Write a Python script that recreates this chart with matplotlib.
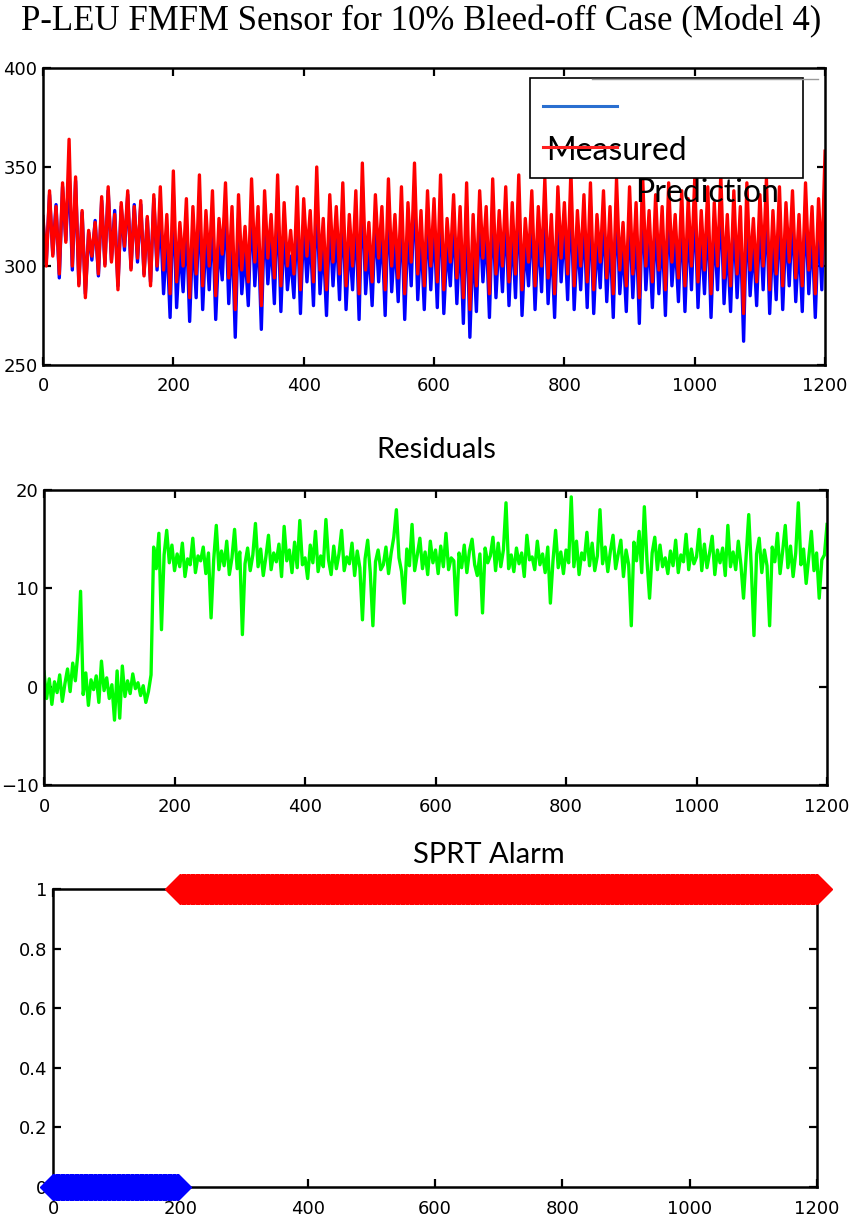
import numpy as np
import matplotlib.pyplot as plt
from matplotlib.patches import Rectangle
from matplotlib.lines import Line2D

# sensor traces, every 5th sample
t_sensor = np.arange(0, 1201, 5)
prediction = [
    325, 300, 338, 305, 330, 296, 342, 312, 364, 300,
    345, 290, 328, 284, 318, 305, 322, 296, 335, 300,
    340, 302, 326, 288, 332, 310, 338, 298, 330, 304,
    333, 295, 325, 290, 336, 300, 340, 298, 326, 286,
    348, 292, 322, 300, 334, 284, 330, 296, 346, 290,
    328, 300, 338, 285, 324, 306, 342, 294, 330, 278,
    336, 298, 320, 292, 344, 302, 330, 280, 338, 304,
    326, 294, 346, 290, 332, 300, 318, 296, 340, 288,
    334, 305, 328, 292, 350, 298, 324, 288, 336, 302,
    330, 296, 342, 290, 326, 300, 338, 286, 352, 298,
    322, 292, 336, 304, 330, 288, 344, 300, 326, 294,
    340, 286, 332, 302, 352, 296, 328, 290, 338, 300,
    334, 292, 346, 288, 324, 302, 336, 294, 330, 284,
    342, 278, 326, 290, 338, 304, 330, 286, 344, 296,
    328, 300, 340, 292, 332, 296, 346, 288, 324, 302,
    338, 290, 330, 300, 344, 294, 326, 286, 340, 304,
    332, 296, 348, 290, 328, 300, 336, 292, 342, 288,
    326, 302, 338, 294, 330, 286, 344, 298, 322, 290,
    340, 296, 332, 284, 346, 300, 328, 292, 336, 298,
    330, 288, 342, 302, 326, 294, 338, 290, 334, 300,
    344, 292, 328, 298, 340, 286, 332, 300, 346, 294,
    326, 290, 338, 296, 330, 276, 342, 298, 324, 292,
    336, 300, 344, 288, 328, 296, 340, 290, 332, 302,
    338, 294, 326, 290, 342, 298, 330, 286, 334, 300,
    358,
]
measured = [
    323, 302, 336, 306, 331, 294, 340, 313, 348, 298,
    343, 291, 327, 286, 317, 303, 323, 295, 333, 301,
    338, 303, 328, 290, 330, 308, 336, 299, 331, 302,
    331, 296, 324, 292, 334, 298, 326, 286, 314, 274,
    336, 279, 310, 287, 321, 272, 318, 284, 333, 278,
    316, 288, 325, 273, 312, 293, 330, 281, 318, 264,
    324, 286, 307, 280, 331, 290, 318, 268, 326, 291,
    314, 281, 334, 277, 320, 288, 305, 284, 327, 276,
    322, 292, 316, 280, 337, 286, 312, 275, 324, 290,
    318, 283, 330, 278, 313, 288, 326, 273, 340, 286,
    310, 280, 323, 292, 318, 275, 332, 287, 314, 282,
    328, 273, 320, 290, 340, 283, 316, 278, 325, 288,
    322, 279, 334, 276, 311, 290, 324, 281, 318, 271,
    330, 264, 313, 277, 326, 292, 318, 274, 331, 284,
    316, 287, 328, 280, 319, 284, 334, 275, 312, 290,
    325, 278, 318, 287, 332, 281, 314, 274, 327, 292,
    320, 283, 336, 278, 315, 288, 324, 279, 330, 276,
    314, 289, 326, 282, 317, 274, 332, 286, 310, 277,
    327, 284, 320, 271, 334, 288, 316, 279, 324, 286,
    318, 275, 330, 290, 313, 282, 326, 277, 322, 288,
    332, 279, 316, 286, 327, 274, 320, 288, 334, 281,
    313, 277, 326, 284, 318, 262, 330, 285, 312, 280,
    324, 288, 331, 276, 316, 283, 328, 278, 320, 290,
    326, 282, 314, 277, 330, 286, 318, 274, 322, 288,
    346,
]

# residuals, every 4th sample
t_resid = np.arange(0, 1201, 4)
residual = [
    1.5, -1.2, 0.8, -1.8, 0.5, -0.6, 1.2, -1.5, 0.3, 1.8,
    -0.5, 2.4, 0.6, 3.5, 9.7, -0.8, 1.4, -1.9, 0.7, -0.3,
    1.1, -1.6, 2.6, -0.4, 0.9, -1.2, 0.2, -3.4, 1.6, -3.2,
    2.1, -1.0, 0.6, -0.7, 1.3, -0.2, 0.4, -0.9, 0.1, -1.6,
    -0.5, 1.2, 14.2, 12.0, 15.6, 5.8, 13.4, 15.9, 12.6, 14.4,
    11.8, 13.5, 12.2, 14.6, 11.2, 13.0, 12.4, 15.1, 11.6, 13.3,
    12.8, 14.2, 11.5, 13.6, 7.0, 12.9, 16.4, 11.9, 13.8, 12.3,
    14.8, 11.4, 13.1, 16.0, 12.0, 13.7, 5.3, 12.5, 14.1, 11.8,
    13.4, 16.6, 12.2, 14.0, 11.3, 13.2, 15.4, 11.9, 13.6, 12.7,
    14.5, 11.2, 16.3, 12.8, 13.9, 11.6, 14.7, 12.1, 16.9, 12.4,
    13.1, 11.0, 14.4, 12.6, 15.8, 11.7, 13.3, 12.2, 17.0, 12.9,
    11.4, 14.3, 12.0, 13.5, 15.9, 11.8, 13.2, 12.5, 14.6, 11.3,
    13.8, 12.1, 6.8, 13.0, 14.9, 11.6, 6.2, 12.7, 13.9, 11.9,
    12.4, 14.2, 11.5, 13.6, 15.2, 18.0, 13.1, 11.7, 8.5, 14.0,
    12.3, 16.5, 11.8, 13.4, 15.1, 12.0, 13.7, 11.4, 14.8, 12.6,
    13.9, 11.5, 14.3, 12.2, 15.6, 11.9, 13.1, 12.8, 7.3, 13.6,
    12.1, 14.4, 11.6, 13.8, 15.0, 12.4, 11.3, 13.5, 7.5, 14.1,
    12.6, 13.3, 15.2, 11.8, 14.6, 12.2, 13.9, 18.7, 12.0, 13.4,
    11.7, 14.1, 12.5, 13.6, 11.2, 15.4, 12.9, 13.2, 11.9, 14.8,
    12.4, 13.5, 11.6, 14.2, 8.5, 12.8, 15.9, 12.1, 13.7, 11.5,
    13.9, 12.6, 19.3, 12.2, 14.8, 11.4, 13.6, 12.9, 15.7, 12.3,
    14.6, 11.8, 13.3, 18.0, 12.5, 14.2, 11.7, 13.8, 15.4, 12.0,
    13.5, 14.9, 11.2, 13.9, 12.4, 6.2, 14.7, 12.8, 15.8, 11.6,
    18.3, 12.9, 9.0, 13.6, 15.2, 11.9, 14.4, 12.2, 13.1, 11.5,
    13.8, 12.3, 14.9, 11.6, 13.4, 12.7, 15.5, 11.9, 14.0, 12.5,
    13.2, 16.0, 11.8, 14.5, 12.1, 13.6, 15.3, 11.4, 13.9, 12.6,
    14.1, 11.3, 16.4, 12.2, 13.7, 11.9, 14.8, 12.4, 9.0, 13.3,
    17.5, 12.0, 5.2, 13.5, 15.1, 11.6, 13.9, 12.3, 6.2, 14.2,
    12.7, 15.6, 11.5, 13.8, 16.4, 12.1, 14.3, 11.2, 13.6, 18.7,
    12.4, 14.0, 10.5, 13.2, 15.8, 11.8, 13.6, 9.0, 12.9, 13.4,
    16.5,
]

# SPRT alarm state as runs of samples
alarm_start = [0, 200]
alarm_end = [196, 1200]
alarm_level = [0, 1]
alarm_color = ['#0000ff', '#ff0000']
alarm_size = [13, 15]

xticks = [0, 200, 400, 600, 800, 1000, 1200]

fig = plt.figure(figsize=(8.55, 12.26), dpi=100)


def matlab_box(ax):
    for s in ax.spines.values():
        s.set_linewidth(1.8)
        s.set_color('black')
    ax.tick_params(direction='in', top=True, right=True, length=6, width=1.6,
                   labelsize=13, colors='black')
    ax.tick_params(axis='x', pad=9)
    ax.tick_params(axis='y', pad=4)
    ax.set_xticks(xticks)
    ax.set_xticklabels([str(v) for v in xticks])


# top: measured vs prediction
ax1 = fig.add_axes([0.0503, 0.7023, 0.9147, 0.2422])
ax1.plot(t_sensor, measured, color='#0000ff', lw=2.4)
ax1.plot(t_sensor, prediction, color='#ff0000', lw=2.4)
ax1.set_xlim(0, 1200)
ax1.set_ylim(250, 400)
ax1.set_yticks([250, 300, 350, 400])
matlab_box(ax1)

# hand-placed legend box
ax1.add_patch(Rectangle((0.623, 0.630), 0.349, 0.336, transform=ax1.transAxes,
                        facecolor='white', edgecolor='black', lw=1.2, zorder=5))
ax1.add_line(Line2D([0.702, 0.991], [0.962, 0.962], transform=ax1.transAxes,
                    color='#999999', lw=1, zorder=6))
ax1.add_line(Line2D([0.639, 0.734], [0.872, 0.872], transform=ax1.transAxes,
                    color='#2a6fd0', lw=2.2, zorder=6))
ax1.add_line(Line2D([0.639, 0.734], [0.734, 0.734], transform=ax1.transAxes,
                    color='#ff2020', lw=2.2, zorder=7))
ax1.text(0.643, 0.720, 'Measured', transform=ax1.transAxes, fontsize=23,
         family='Lato', va='center', ha='left', zorder=6)
ax1.text(0.757, 0.580, 'Prediction', transform=ax1.transAxes, fontsize=23,
         family='Lato', va='center', ha='left', zorder=6)

# middle: residuals
ax2 = fig.add_axes([0.0515, 0.3597, 0.9158, 0.2406])
ax2.plot(t_resid, residual, color='#00ff00', lw=2.4)
ax2.set_xlim(0, 1200)
ax2.set_ylim(-10, 20)
ax2.set_yticks([-10, 0, 10, 20])
matlab_box(ax2)

# bottom: SPRT alarm
ax3 = fig.add_axes([0.062, 0.0318, 0.8936, 0.2431])
for a, b, lev, c, ms in zip(alarm_start, alarm_end, alarm_level,
                            alarm_color, alarm_size):
    xs = np.arange(a, b + 1, 2)
    ax3.plot(xs, np.full(len(xs), lev), color=c, lw=6, marker='D', ms=ms,
             mec=c, mfc=c, clip_on=False, zorder=5)
ax3.set_xlim(0, 1200)
ax3.set_ylim(0, 1)
ax3.set_yticks([0, 0.2, 0.4, 0.6, 0.8, 1])
ax3.set_yticklabels(['0', '0.2', '0.4', '0.6', '0.8', '1'])
matlab_box(ax3)

fig.text(0.493, 0.982, 'P-LEU FMFM Sensor for 10% Bleed-off Case (Model 4)',
         family='Liberation Serif', fontsize=25, ha='center', va='center')
fig.text(0.510, 0.633, 'Residuals', family='Lato', fontsize=21,
         ha='center', va='center')
fig.text(0.572, 0.3026, 'SPRT Alarm', family='Lato', fontsize=21,
         ha='center', va='center')

fig.savefig('out.png', dpi=100)
